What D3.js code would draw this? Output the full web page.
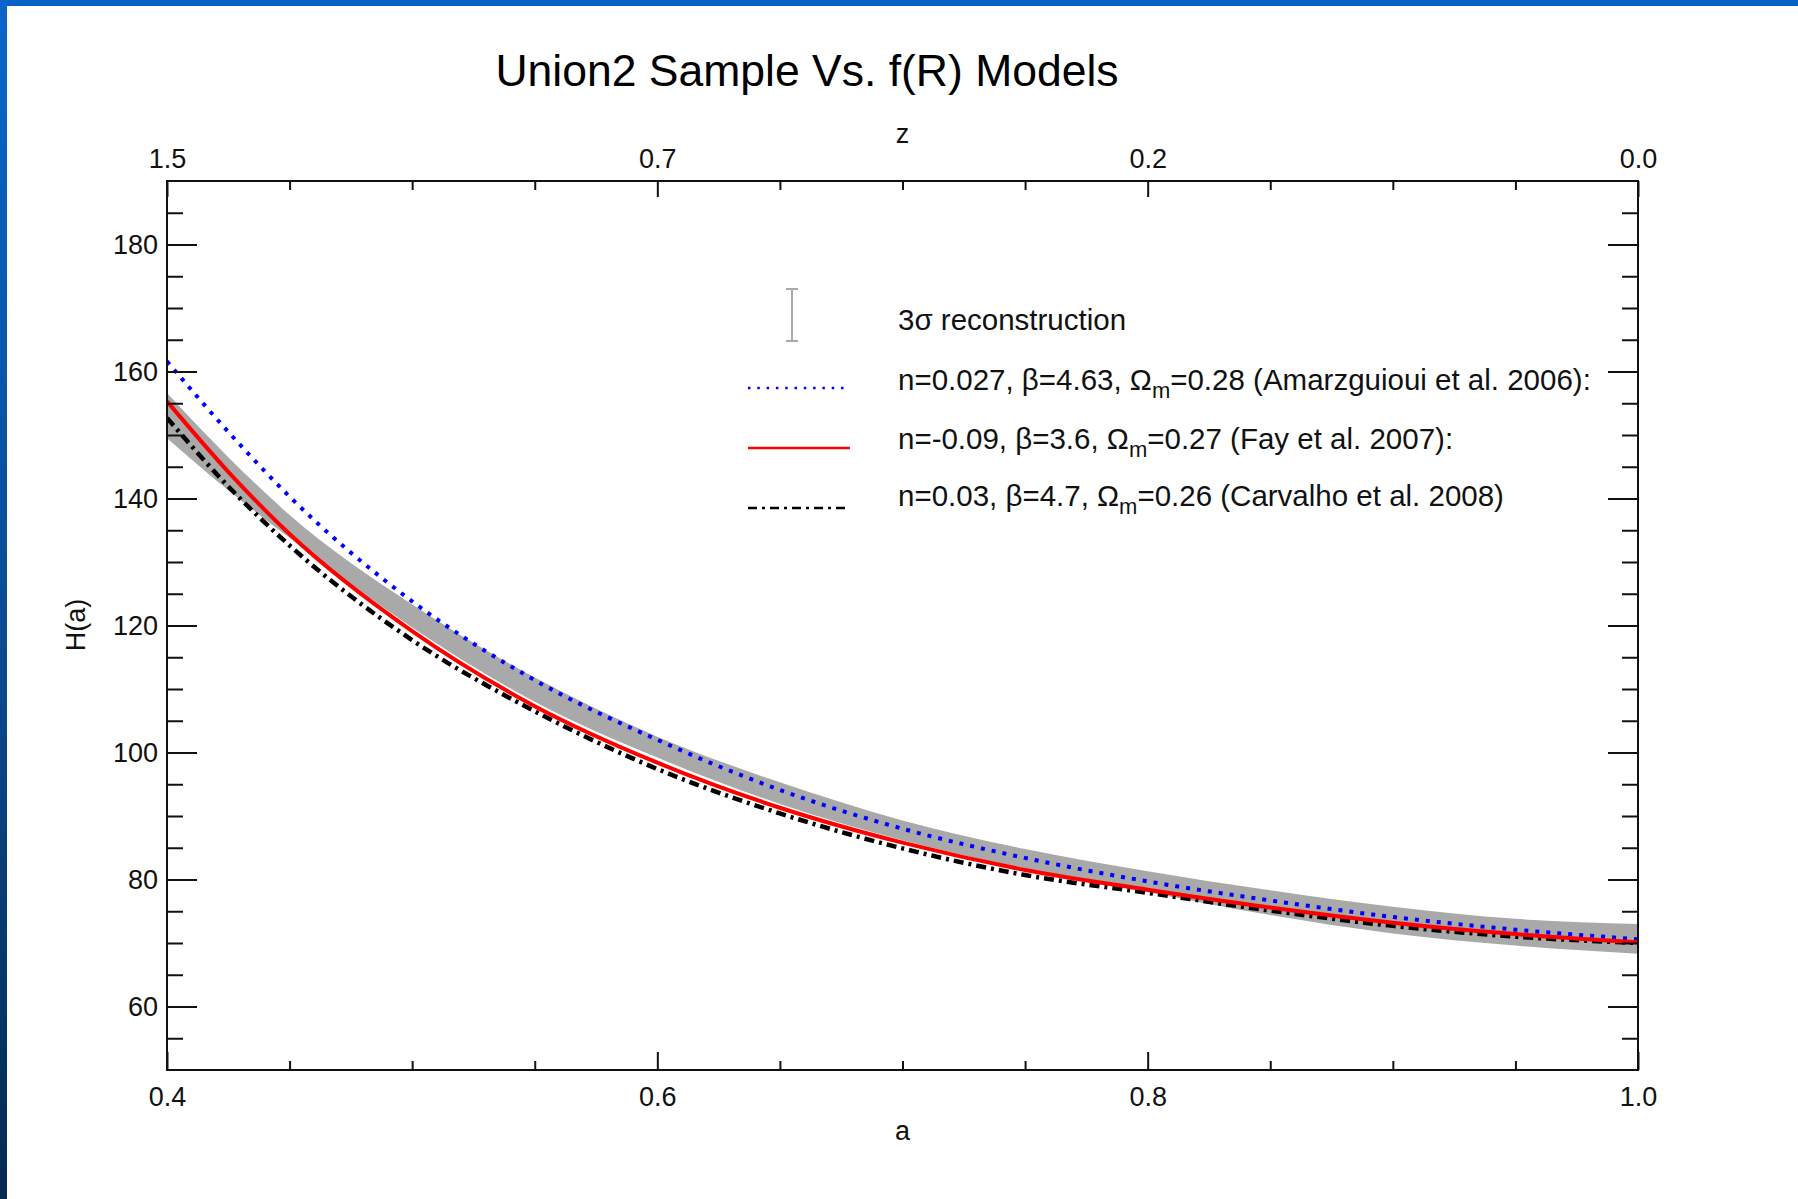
<!DOCTYPE html>
<html>

<head>
    <meta charset="utf-8">
    <style>
        body {
            margin: 0;
            background: #fff;
        }

        svg {
            display: block;
            font-family: 'Liberation Sans', Arial, sans-serif;
        }

        .axis .domain {
            display: none;
        }

        .axis line {
            stroke: #111;
            stroke-width: 2;
        }

        .axis text {
            font-size: 27px;
            fill: #111;
        }

        .title {
            font-size: 44.5px;
            fill: #000;
        }

        .axis-label {
            font-size: 27px;
            fill: #111;
        }

        .legend text {
            font-size: 29.5px;
            fill: #111;
        }
    </style>
</head>

<body>
    <svg width="1798" height="1199"></svg>

    <script src="https://d3js.org/d3.v7.min.js"></script>
    <script>
        // scale factor a, and H(a)
        const aValues = [0.4, 0.425, 0.45, 0.5, 0.55, 0.6, 0.65, 0.7, 0.75, 0.8, 0.85, 0.9, 0.95, 1.0];
        const bandUpper = [156.6, 146.5, 137.4, 123.3, 111.8, 102.5, 95.3, 89.3, 84.8, 81.3, 78.3, 75.7, 73.8, 73.0];
        const bandLower = [149.5, 141.3, 133.8, 119.7, 108.0, 99.2, 91.9, 86.2, 81.7, 78.0, 74.4, 71.5, 69.6, 68.3];
        const amarzguioui = [161.6, 150.5, 140.3, 123.8, 111.4, 102.0, 94.1, 88.0, 83.4, 79.7, 76.7, 74.1, 72.1, 70.6];
        const fay = [155.3, 144.2, 134.4, 119.1, 107.3, 98.4, 91.3, 85.8, 81.5, 78.4, 75.6, 73.2, 71.4, 70.1];
        const carvalho = [152.7, 141.9, 132.6, 117.7, 106.5, 97.4, 90.4, 84.9, 80.7, 77.9, 75.1, 72.7, 71.0, 70.0];

        // ticks
        const aMajor = [0.4, 0.6, 0.8, 1.0];
        const aMinor = [0.45, 0.5, 0.55, 0.65, 0.7, 0.75, 0.85, 0.9, 0.95];
        const aTickLabels = ["0.4", "0.6", "0.8", "1.0"];
        const zTickLabels = ["1.5", "0.7", "0.2", "0.0"];
        const hMajor = [60, 80, 100, 120, 140, 160, 180];
        const hMinor = [55, 65, 70, 75, 85, 90, 95, 105, 110, 115, 125, 130, 135, 145, 150, 155, 165, 170, 175, 185];

        const legendItems = [
            { pre: "n=0.027, β=4.63, Ω", sub: "m", post: "=0.28 (Amarzguioui et al. 2006):", color: "#0000ff", dash: "2.5,6.8", w: 2.5 },
            { pre: "n=-0.09, β=3.6, Ω", sub: "m", post: "=0.27 (Fay et al. 2007):", color: "#ff0000", dash: null, w: 2.5 },
            { pre: "n=0.03, β=4.7, Ω", sub: "m", post: "=0.26 (Carvalho et al. 2008)", color: "#000000", dash: "9,5,3,5", w: 2.5 }
        ];

        let svg = d3.select("svg");

        // slide background edges
        let grad = svg.append("defs").append("linearGradient")
            .attr("id", "edge")
            .attr("x1", 0).attr("y1", 0).attr("x2", 0).attr("y2", 1);
        grad.append("stop").attr("offset", "0%").attr("stop-color", "#0a66cc");
        grad.append("stop").attr("offset", "55%").attr("stop-color", "#0a4a90");
        grad.append("stop").attr("offset", "100%").attr("stop-color", "#052a50");

        svg.append("rect").attr("x", 0).attr("y", 0).attr("width", 1798).attr("height", 6).attr("fill", "#0563c6");
        svg.append("rect").attr("x", 0).attr("y", 0).attr("width", 7).attr("height", 1199).attr("fill", "url(#edge)");

        let margin = { top: 181, right: 160, bottom: 129, left: 167 };
        let width = 1798, height = 1199;

        let x = d3.scaleLinear()
            .domain([0.4, 1.0])
            .range([margin.left, width - margin.right]);

        let y = d3.scaleLinear()
            .domain([50, 190])
            .range([height - margin.bottom, margin.top]);

        svg.append("clipPath").attr("id", "plot")
            .append("rect")
            .attr("x", x(0.4)).attr("y", y(190))
            .attr("width", x(1.0) - x(0.4)).attr("height", y(50) - y(190));

        let plot = svg.append("g").attr("clip-path", "url(#plot)");

        let rows = aValues.map((a, i) => ({
            a: a, lo: bandLower[i], hi: bandUpper[i],
            blue: amarzguioui[i], red: fay[i], black: carvalho[i]
        }));

        let area = d3.area()
            .x(d => x(d.a))
            .y0(d => y(d.lo))
            .y1(d => y(d.hi))
            .curve(d3.curveMonotoneX);

        plot.append("path")
            .datum(rows)
            .attr("fill", "#a9a9a9")
            .attr("d", area);

        function lineFor(key) {
            return d3.line().x(d => x(d.a)).y(d => y(d[key])).curve(d3.curveMonotoneX);
        }

        plot.append("path").datum(rows)
            .attr("fill", "none").attr("stroke", "#000").attr("stroke-width", 4.5)
            .attr("stroke-dasharray", "10,5,3,5")
            .attr("d", lineFor("black"));

        plot.append("path").datum(rows)
            .attr("fill", "none").attr("stroke", "#0000ff").attr("stroke-width", 4)
            .attr("stroke-dasharray", "4,7")
            .attr("d", lineFor("blue"));

        plot.append("path").datum(rows)
            .attr("fill", "none").attr("stroke", "#ff0000").attr("stroke-width", 4)
            .attr("d", lineFor("red"));

        // frame
        svg.append("rect")
            .attr("x", x(0.4)).attr("y", y(190))
            .attr("width", x(1.0) - x(0.4)).attr("height", y(50) - y(190))
            .attr("fill", "none").attr("stroke", "#111").attr("stroke-width", 2);

        // axes: ticks point inwards
        let fmtA = d => aTickLabels[aMajor.indexOf(d)];
        let fmtZ = d => zTickLabels[aMajor.indexOf(d)];

        svg.append("g").attr("class", "axis")
            .attr("transform", `translate(0,${y(50)})`)
            .call(d3.axisBottom(x).tickValues(aMajor).tickSizeInner(-18).tickSizeOuter(0).tickPadding(17).tickFormat(fmtA));
        svg.append("g").attr("class", "axis")
            .attr("transform", `translate(0,${y(50)})`)
            .call(d3.axisBottom(x).tickValues(aMinor).tickSizeInner(-9).tickSizeOuter(0).tickFormat(""));

        svg.append("g").attr("class", "axis")
            .attr("transform", `translate(0,${y(190)})`)
            .call(d3.axisTop(x).tickValues(aMajor).tickSizeInner(-16).tickSizeOuter(0).tickPadding(13).tickFormat(fmtZ));
        svg.append("g").attr("class", "axis")
            .attr("transform", `translate(0,${y(190)})`)
            .call(d3.axisTop(x).tickValues(aMinor).tickSizeInner(-9).tickSizeOuter(0).tickFormat(""));

        svg.append("g").attr("class", "axis")
            .attr("transform", `translate(${x(0.4)},0)`)
            .call(d3.axisLeft(y).tickValues(hMajor).tickSizeInner(-30).tickSizeOuter(0).tickPadding(9));
        svg.append("g").attr("class", "axis")
            .attr("transform", `translate(${x(0.4)},0)`)
            .call(d3.axisLeft(y).tickValues(hMinor).tickSizeInner(-16).tickSizeOuter(0).tickFormat(""));

        svg.append("g").attr("class", "axis")
            .attr("transform", `translate(${x(1.0)},0)`)
            .call(d3.axisRight(y).tickValues(hMajor).tickSizeInner(-30).tickSizeOuter(0).tickFormat(""));
        svg.append("g").attr("class", "axis")
            .attr("transform", `translate(${x(1.0)},0)`)
            .call(d3.axisRight(y).tickValues(hMinor).tickSizeInner(-16).tickSizeOuter(0).tickFormat(""));

        // labels
        svg.append("text").attr("class", "title")
            .attr("x", 807).attr("y", 86)
            .attr("text-anchor", "middle")
            .text("Union2 Sample Vs. f(R) Models");

        svg.append("text").attr("class", "axis-label")
            .attr("x", (x(0.4) + x(1.0)) / 2).attr("y", 1140)
            .attr("text-anchor", "middle").text("a");

        svg.append("text").attr("class", "axis-label")
            .attr("x", (x(0.4) + x(1.0)) / 2).attr("y", 143)
            .attr("text-anchor", "middle").text("z");

        svg.append("text").attr("class", "axis-label")
            .attr("transform", "translate(85,625) rotate(-90)")
            .attr("text-anchor", "middle").text("H(a)");

        // legend
        let legend = svg.append("g").attr("class", "legend");

        let eb = legend.append("g").attr("stroke", "#aaa").attr("stroke-width", 2);
        eb.append("line").attr("x1", 792).attr("x2", 792).attr("y1", 289).attr("y2", 341);
        eb.append("line").attr("x1", 786).attr("x2", 798).attr("y1", 289).attr("y2", 289);
        eb.append("line").attr("x1", 786).attr("x2", 798).attr("y1", 341).attr("y2", 341);

        legend.append("text").attr("x", 898).attr("y", 330)
            .text("3σ reconstruction");

        let lineY = [388, 448, 508];
        let textY = [390, 449, 506];

        legendItems.forEach((d, i) => {
            let ln = legend.append("line")
                .attr("x1", 748).attr("x2", 850)
                .attr("y1", lineY[i]).attr("y2", lineY[i])
                .attr("stroke", d.color).attr("stroke-width", d.w);
            if (d.dash) ln.attr("stroke-dasharray", d.dash);

            let t = legend.append("text").attr("x", 898).attr("y", textY[i]);
            t.append("tspan").text(d.pre);
            t.append("tspan").attr("dy", 8).style("font-size", "22px").text(d.sub);
            t.append("tspan").attr("dy", -8).text(d.post);
        });
    </script>
</body>

</html>
